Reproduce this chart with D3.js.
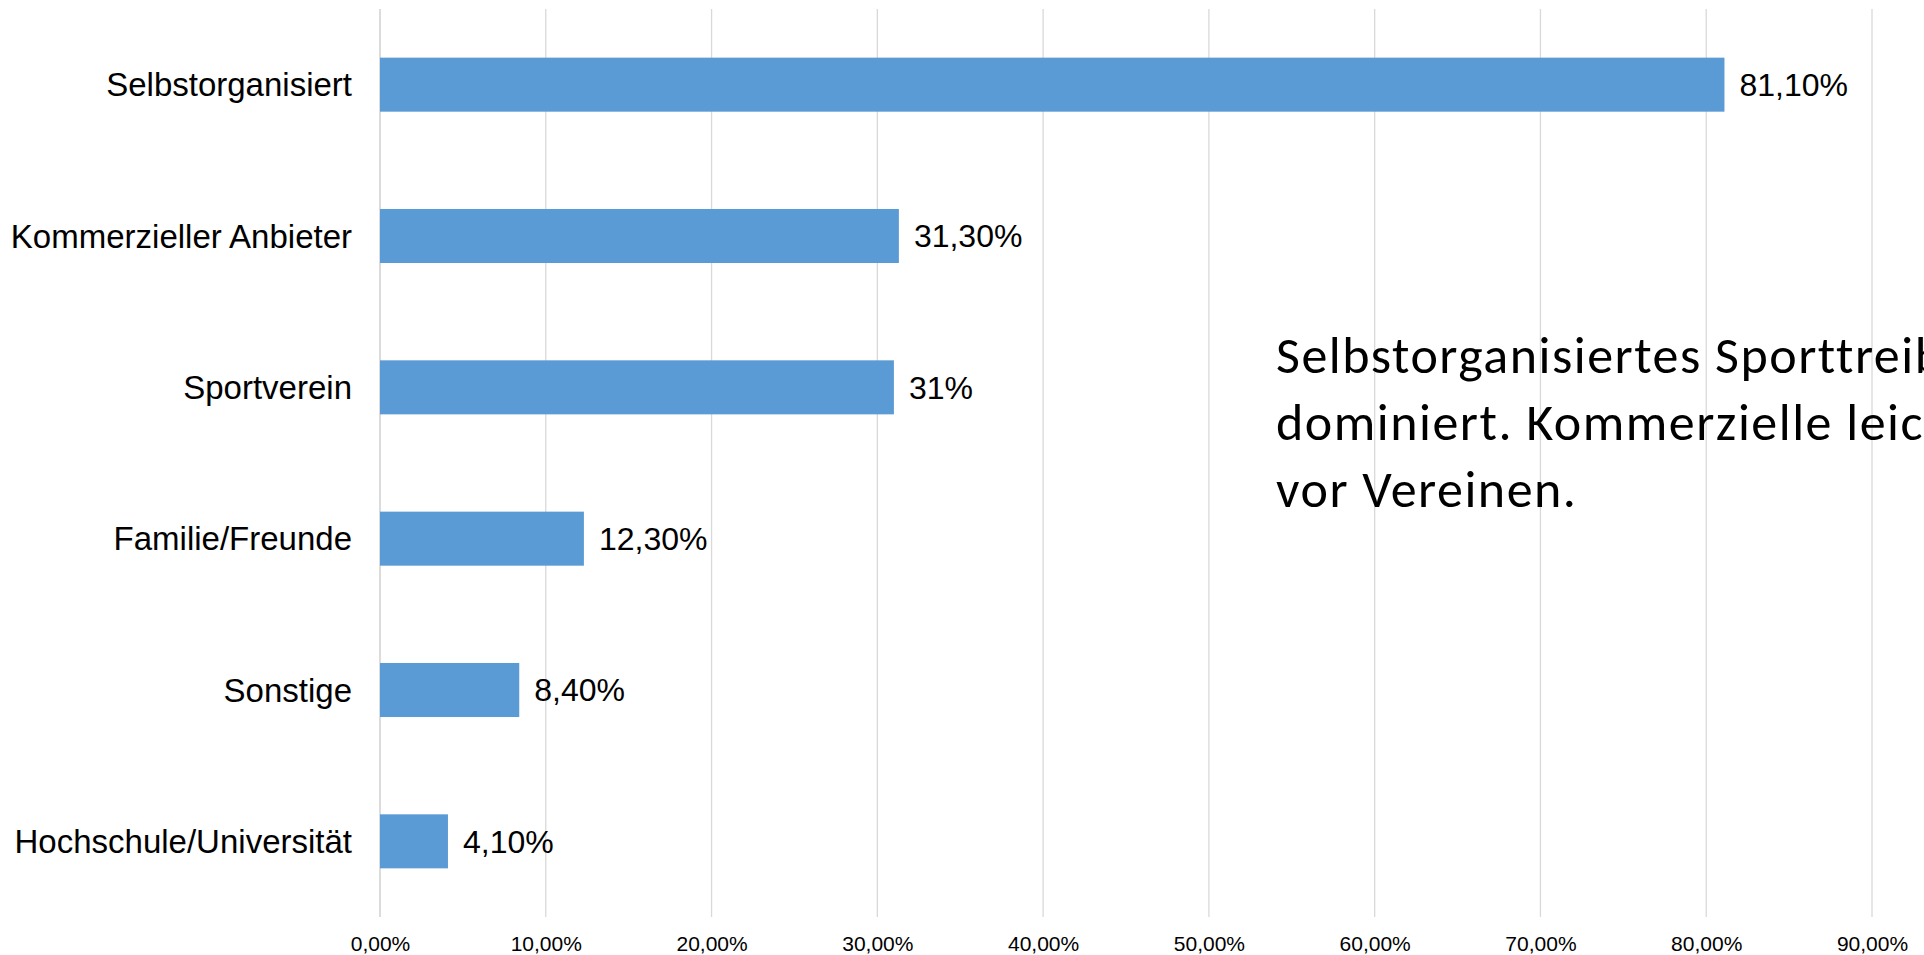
<!DOCTYPE html>
<html>
<head>
<meta charset="utf-8">
<script src="https://cdn.jsdelivr.net/npm/d3@7"></script>
<style>
  html, body { margin: 0; padding: 0; background: #fff; overflow: hidden; }
  svg { display: block; }
</style>
</head>
<body>
<svg id="chart" width="1924" height="955"></svg>
<script>
const categories = ["Selbstorganisiert", "Kommerzieller Anbieter", "Sportverein", "Familie/Freunde", "Sonstige", "Hochschule/Universität"];
const values = [81.1, 31.3, 31, 12.3, 8.4, 4.1];
const valueLabels = ["81,10%", "31,30%", "31%", "12,30%", "8,40%", "4,10%"];
const tickValues = [0, 10, 20, 30, 40, 50, 60, 70, 80, 90];
const tickLabels = ["0,00%", "10,00%", "20,00%", "30,00%", "40,00%", "50,00%", "60,00%", "70,00%", "80,00%", "90,00%"];
const annotationLines = ["Selbstorganisiertes Sporttreiben", "dominiert. Kommerzielle leicht", "vor Vereinen."];

const svg = d3.select("#chart");
const plot = { left: 380, right: 1872, top: 9, bottom: 917 };

const x = d3.scaleLinear().domain([0, 90]).range([plot.left, plot.right]);
const y = d3.scaleBand().domain(categories).range([plot.top, plot.bottom])
  .paddingInner(0.643).paddingOuter(0.3215);

// gridlines
svg.append("g").selectAll("line").data(tickValues).join("line")
  .attr("x1", d => x(d)).attr("x2", d => x(d))
  .attr("y1", plot.top).attr("y2", plot.bottom)
  .attr("stroke", "#d9d9d9").attr("stroke-width", d => d === 0 ? 1.8 : 1.3);

// x axis tick labels
const xAxis = d3.axisBottom(x).tickValues(tickValues)
  .tickFormat((d, i) => tickLabels[i]).tickSize(0).tickPadding(0);
const gx = svg.append("g").attr("transform", `translate(0, 935)`).call(xAxis);
gx.select(".domain").remove();
gx.selectAll("text")
  .attr("y", 16).attr("dy", 0)
  .attr("font-family", "'Liberation Sans', Arial, sans-serif")
  .attr("font-size", 21).attr("fill", "#000");

// y axis category labels
const yAxis = d3.axisLeft(y).tickSize(0).tickPadding(28);
const gy = svg.append("g").attr("transform", `translate(${plot.left}, 0)`).call(yAxis);
gy.select(".domain").remove();
gy.selectAll("text")
  .attr("font-family", "'Liberation Sans', Arial, sans-serif")
  .attr("font-size", 33).attr("fill", "#000").attr("dy", "0.35em");

// bars
svg.append("g").selectAll("rect").data(categories).join("rect")
  .attr("x", x(0))
  .attr("y", d => y(d))
  .attr("width", (d, i) => x(values[i]) - x(0))
  .attr("height", y.bandwidth())
  .attr("fill", "#5b9bd5");

// value labels
svg.append("g").selectAll("text").data(categories).join("text")
  .attr("x", (d, i) => x(values[i]) + 15)
  .attr("y", d => y(d) + y.bandwidth() / 2)
  .attr("dy", "0.35em")
  .attr("font-family", "'Liberation Sans', Arial, sans-serif")
  .attr("font-size", 32).attr("fill", "#000")
  .text((d, i) => valueLabels[i]);

// annotation (clipped at the right edge, as in the reference)
svg.append("text")
  .attr("font-family", "Carlito, Calibri, Lato, sans-serif")
  .attr("font-size", 52).attr("letter-spacing", 1.5).attr("fill", "#000")
  .selectAll("tspan").data(annotationLines).join("tspan")
  .attr("x", 1276)
  .attr("y", (d, i) => 373 + i * 67)
  .text(d => d);
</script>
</body>
</html>
